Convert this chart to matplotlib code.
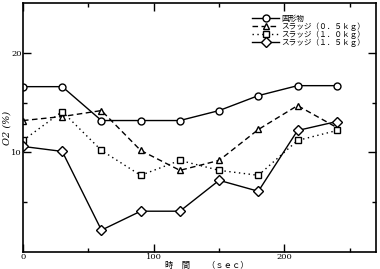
import matplotlib
matplotlib.use("Agg")
import matplotlib.pyplot as plt
from matplotlib.ticker import FixedLocator

plt.rcParams['font.family'] = ['Noto Sans CJK JP', 'DejaVu Sans']

time_sec = [0, 30, 60, 90, 120, 150, 180, 210, 240]
solids = [16.6, 16.6, 13.2, 13.2, 13.2, 14.2, 15.7, 16.7, 16.7]
sludge_05 = [13.2, 13.6, 14.2, 10.2, 8.2, 9.2, 12.3, 14.7, 12.5]
sludge_10 = [11.2, 14.1, 10.2, 7.7, 9.2, 8.2, 7.7, 11.2, 12.2]
sludge_15 = [10.6, 10.1, 2.2, 4.1, 4.1, 7.2, 6.1, 12.2, 13.1]

labels = ['固形物', 'スラッジ（０．５ｋｇ）', 'スラッジ（１．０ｋｇ）', 'スラッジ（１．５ｋｇ）']
xtick_vals = [0, 100, 200]
ytick_vals = [10, 20]

fig = plt.figure(figsize=(3.8, 2.69), dpi=100)
ax = fig.add_axes([0.0605, 0.063, 0.929, 0.926])

mk = dict(markerfacecolor='white', markeredgecolor='black', markeredgewidth=1.0, color='black', lw=1.0)
ax.plot(time_sec, solids, '-', marker='o', markersize=5, label=labels[0], **mk)
ax.plot(time_sec, sludge_05, '--', marker='^', markersize=5, label=labels[1], dashes=(4, 2.5), **mk)
ax.plot(time_sec, sludge_10, ':', marker='s', markersize=5, label=labels[2], dashes=(1, 2.5), **mk)
ax.plot(time_sec, sludge_15, '-', marker='D', markersize=5, label=labels[3], **mk)

ax.set_xlim(0, 270)
ax.set_ylim(0, 25)
ax.xaxis.set_major_locator(FixedLocator(xtick_vals))
ax.yaxis.set_major_locator(FixedLocator(ytick_vals))
ax.xaxis.set_minor_locator(FixedLocator([50, 150, 250]))
ax.yaxis.set_minor_locator(FixedLocator([5, 15]))
ax.tick_params(which='both', direction='in', top=True, right=True, labelsize=6, pad=0.8)
ax.tick_params(which='major', length=6, width=1)
ax.tick_params(which='minor', length=3, width=1)
for lbl in ax.get_xticklabels() + ax.get_yticklabels():
    lbl.set_family('DejaVu Serif')
for s in ax.spines.values():
    s.set_linewidth(1.2)

ax.set_xlabel('時　間　　（ｓｅｃ）', fontsize=6, style='italic')
ax.xaxis.set_label_coords(0.52, -0.036)
ax.set_ylabel('O2 (%)', fontsize=7, style='italic', labelpad=0, family='DejaVu Serif')

leg = ax.legend(loc='upper right', bbox_to_anchor=(0.985, 0.975), frameon=False, fontsize=5.5,
                handlelength=3.5, handletextpad=0.3, labelspacing=-0.05, borderpad=0.2)
for t in leg.get_texts():
    t.set_style('italic')

fig.savefig('out.png', dpi=100)
